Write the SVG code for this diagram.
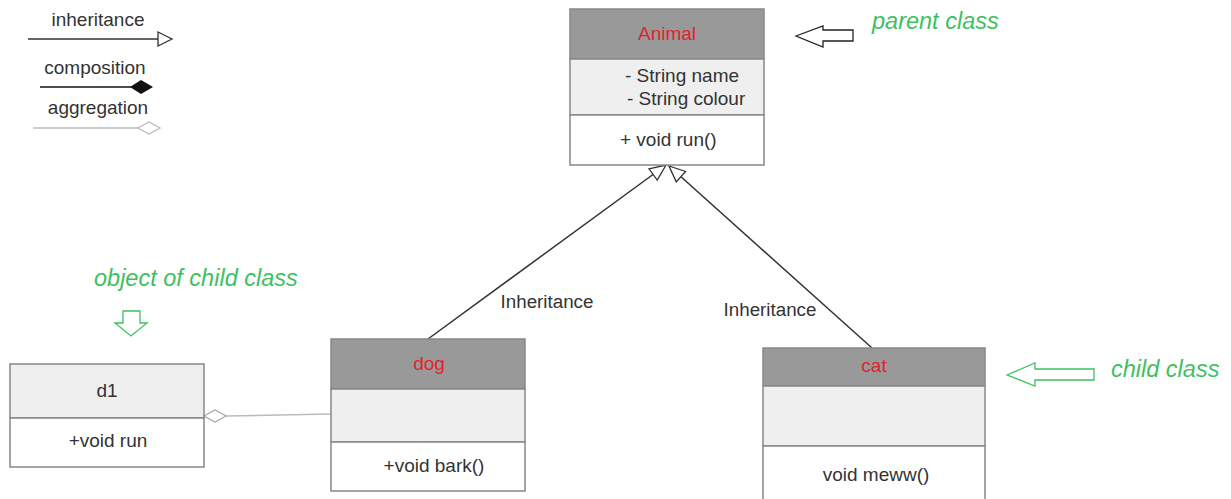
<svg xmlns="http://www.w3.org/2000/svg" width="1231" height="499" viewBox="0 0 1231 499">
<style>
text{font-family:"Liberation Sans",Arial,sans-serif;font-size:19px;fill:#333;}
.c{text-anchor:middle;}
.red{fill:#e3232c;}
.note{fill:#3fc060;font-style:italic;font-size:23.5px;}
.hdr{fill:#999;stroke:#888;stroke-width:1.5;}
.att{fill:#efefef;stroke:#888;stroke-width:1.5;}
.mth{fill:#fff;stroke:#888;stroke-width:1.5;}
.edge{stroke:#333;stroke-width:1.5;fill:none;}
.agg{stroke:#bbb;stroke-width:1.5;fill:none;}
</style>
<defs>
<marker id="tri" markerWidth="20" markerHeight="18" refX="17" refY="8" orient="auto" markerUnits="userSpaceOnUse">
<path d="M1,1 L17,8 L1,15 Z" fill="#fff" stroke="#333" stroke-width="1.3"/>
</marker>
</defs>
<rect width="1231" height="499" fill="#fff"/>

<g id="legend">
<text x="98" y="26" class="c">inheritance</text>
<line x1="28" y1="39" x2="158" y2="39" stroke="#333" stroke-width="1.5"/>
<path d="M158,32 L172,39 L158,46 Z" fill="#fff" stroke="#333" stroke-width="1.3"/>
<text x="95" y="74" class="c">composition</text>
<line x1="40" y1="87" x2="131" y2="87" stroke="#111" stroke-width="1.5"/>
<path d="M130,87 L141,80 L153,87 L141,94 Z" fill="#111"/>
<text x="98" y="114" class="c">aggregation</text>
<line x1="33" y1="128" x2="138" y2="128" stroke="#bbb" stroke-width="1.5"/>
<path d="M138,128 L149,122 L160,128 L149,134 Z" fill="#fff" stroke="#bbb" stroke-width="1.3"/>
</g>

<g id="connectors">
<line class="edge" x1="428" y1="339" x2="666" y2="165" marker-end="url(#tri)"/>
<line class="edge" x1="872" y1="348" x2="669" y2="166" marker-end="url(#tri)"/>
<text x="547" y="308" class="c" style="font-size:18.8px">Inheritance</text>
<text x="770" y="316" class="c" style="font-size:18.8px">Inheritance</text>
<line class="agg" x1="226" y1="416" x2="331" y2="414"/>
<path d="M204,416 L215,410 L226,416 L215,422 Z" fill="#fff" stroke="#aaa" stroke-width="1.3"/>
</g>

<g id="animal">
<rect class="hdr" x="570" y="9" width="194" height="50"/>
<rect class="att" x="570" y="59" width="194" height="56"/>
<rect class="mth" x="570" y="115" width="194" height="50"/>
<text x="667" y="40" class="c red">Animal</text>
<text x="625" y="82">- String name</text>
<text x="627" y="105">- String colour</text>
<text x="620" y="146">+ void run()</text>
</g>

<g id="parent-note">
<path d="M796,36 L823,26 L823,30 L853,30 L853,41 L823,41 L823,47 Z" fill="#fff" stroke="#222" stroke-width="1.3"/>
<text x="872" y="29" class="note">parent class</text>
</g>

<g id="object-note">
<text x="94" y="286" class="note">object of child class</text>
<path d="M123,311 L140,311 L140,323 L147,323 L131,336 L115,323 L123,323 Z" fill="#fff" stroke="#3fc060" stroke-width="1.3"/>
</g>

<g id="d1">
<rect class="att" x="10" y="364" width="194" height="54"/>
<rect class="mth" x="10" y="418" width="194" height="49"/>
<text x="107" y="397" class="c">d1</text>
<text x="108" y="447" class="c">+void run</text>
</g>

<g id="dog">
<rect class="hdr" x="331" y="339" width="194" height="50"/>
<rect class="att" x="331" y="389" width="194" height="53"/>
<rect class="mth" x="331" y="442" width="194" height="49"/>
<text x="429" y="370" class="c red">dog</text>
<text x="434" y="472" class="c">+void bark()</text>
</g>

<g id="cat">
<rect class="hdr" x="763" y="348" width="222" height="38"/>
<rect class="att" x="763" y="386" width="222" height="60"/>
<rect class="mth" x="763" y="446" width="222" height="60"/>
<text x="874" y="372" class="c red">cat</text>
<text x="876" y="481" class="c">void meww()</text>
</g>

<g id="child-note">
<path d="M1007,375 L1035,363 L1035,369 L1094,369 L1094,380 L1035,380 L1035,386 Z" fill="#fff" stroke="#3fc060" stroke-width="1.3"/>
<text x="1111" y="377" class="note">child class</text>
</g>
</svg>
